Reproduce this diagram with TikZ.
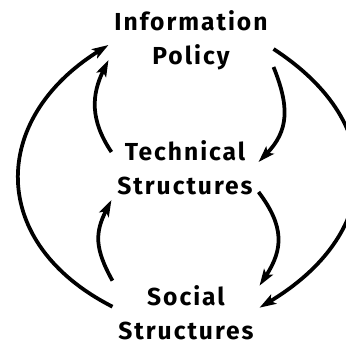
\documentclass[tikz,border=0pt]{standalone}
\usepackage{fontspec}
\setmainfont[LetterSpace=8]{Fira Sans}
\usetikzlibrary{arrows.meta}

\begin{document}
\begin{tikzpicture}[>={Stealth[length=14pt,width=9pt,inset=3pt]}, line width=3.2pt,
                    font=\bfseries\fontsize{21}{29}\selectfont]
    \tikzset{
        lvl/.style ={align=center, inner sep=3.5pt},
        flow/.style={->}
    }
    \useasboundingbox (-5.55,-5.31) rectangle (4.83,5.04);
    \clip (-5.55,-5.31) rectangle (4.83,5.04);
    %% ---- Levels ----
    \node[lvl] (pol)  at (0.18, 3.84)  {Information\\Policy};
    \node[lvl] (tech) at (0, 0)        {Technical\\Structures};
    \node[lvl] (soc)  at (0.03, -4.34) {Social\\Structures};
    %% ---- Outer loop ----
    \draw[flow] ([yshift=0.18cm]soc.west)
        .. controls +(153:4.2) and +(212:4.2) .. ([yshift=-0.15cm]pol.west);
    \draw[flow] ([yshift=-0.27cm]pol.east)
        .. controls +(327:4.2) and +(31:4.2) .. ([yshift=0.15cm]soc.east);
    %% ---- Policy <-> technical ----
    \draw[flow] ([yshift=0.48cm]tech.west)
        .. controls +(124:1.16) and +(244:1.16) .. ([yshift=-0.6cm]pol.west);
    \draw[flow] ([yshift=-0.81cm]pol.east)
        .. controls +(292:1.3) and +(46:1.3) .. ([yshift=0.18cm]tech.east);
    %% ---- Technical <-> social ----
    \draw[flow] ([yshift=-0.72cm]tech.east)
        .. controls +(307:1.3) and +(57:1.3) .. ([yshift=0.81cm]soc.east);
    \draw[flow] ([yshift=0.96cm]soc.west)
        .. controls +(119:1.1) and +(243:1.1) .. ([yshift=-0.96cm]tech.west);
\end{tikzpicture}
\end{document}
